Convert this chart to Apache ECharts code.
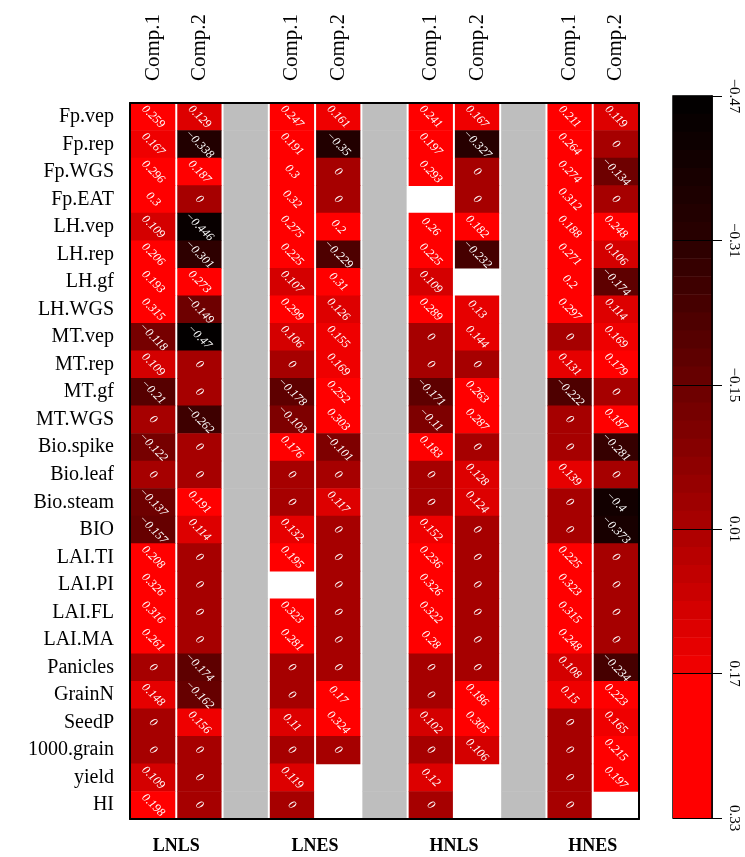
<!DOCTYPE html>
<html>
<head>
<meta charset="utf-8">
<script src="https://cdn.jsdelivr.net/npm/echarts@6/dist/echarts.min.js"></script>
<style>
  html, body { margin: 0; padding: 0; background: #fff; }
  #chart { width: 745px; height: 857px; }
</style>
</head>
<body>
<div id="chart"></div>
<script>
// Trait names (rows, top to bottom)
const rowNames = ['Fp.vep', 'Fp.rep', 'Fp.WGS', 'Fp.EAT', 'LH.vep', 'LH.rep', 'LH.gf', 'LH.WGS',
  'MT.vep', 'MT.rep', 'MT.gf', 'MT.WGS', 'Bio.spike', 'Bio.leaf', 'Bio.steam', 'BIO',
  'LAI.TI', 'LAI.PI', 'LAI.FL', 'LAI.MA', 'Panicles', 'GrainN', 'SeedP', '1000.grain', 'yield', 'HI'];

// Column headers; empty entries are the grey spacer columns
const columnLabels = ['Comp.1', 'Comp.2', '', 'Comp.1', 'Comp.2', '', 'Comp.1', 'Comp.2', '', 'Comp.1', 'Comp.2'];
const groupNames = ['LNLS', 'LNES', 'HNLS', 'HNES'];

// Loadings per treatment and component (null = not available)
const lnlsComp1 = [0.259, 0.167, 0.296, 0.3, 0.109, 0.206, 0.193, 0.315, -0.118, 0.109, -0.21, 0, -0.122,
  0, -0.137, -0.157, 0.208, 0.326, 0.316, 0.261, 0, 0.148, 0, 0, 0.109, 0.198];
const lnlsComp2 = [0.129, -0.338, 0.187, 0, -0.446, -0.301, 0.273, -0.149, -0.47, 0, 0, -0.262, 0,
  0, 0.191, 0.114, 0, 0, 0, 0, -0.174, -0.162, 0.156, 0, 0, 0];
const lnesComp1 = [0.247, 0.191, 0.3, 0.32, 0.275, 0.225, 0.107, 0.299, 0.106, 0, -0.178, -0.103, 0.176,
  0, 0, 0.132, 0.195, null, 0.323, 0.281, 0, 0, 0.11, 0, 0.119, 0];
const lnesComp2 = [0.161, -0.35, 0, 0, 0.2, -0.229, 0.31, 0.126, 0.155, 0.169, 0.252, 0.303, -0.101,
  0, 0.117, 0, 0, 0, 0, 0, 0, 0.17, 0.324, 0, null, null];
const hnlsComp1 = [0.241, 0.197, 0.293, null, 0.26, 0.225, 0.109, 0.289, 0, 0, -0.171, -0.11, 0.183,
  0, 0, 0.152, 0.236, 0.326, 0.322, 0.28, 0, 0, 0.102, 0, 0.12, 0];
const hnlsComp2 = [0.167, -0.327, 0, 0, 0.182, -0.232, null, 0.13, 0.144, 0, 0.263, 0.287, 0,
  0.128, 0.124, 0, 0, 0, 0, 0, 0, 0.186, 0.305, 0.106, null, null];
const hnesComp1 = [0.211, 0.264, 0.274, 0.312, 0.188, 0.271, 0.2, 0.297, 0, 0.131, -0.222, 0, 0,
  0.139, 0, 0, 0.225, 0.323, 0.315, 0.248, 0.108, 0.15, 0, 0, 0, 0];
const hnesComp2 = [0.119, 0, -0.134, 0, 0.248, 0.106, -0.174, 0.114, 0.169, 0.179, 0, 0.187, -0.281,
  0, -0.4, -0.373, 0, 0, 0, 0, -0.234, 0.223, 0.165, 0.215, 0.197, null];

// Colour bar tick labels
const colorbarTicks = [-0.47, -0.31, -0.15, 0.01, 0.17, 0.33];

const columns = [lnlsComp1, lnlsComp2, null, lnesComp1, lnesComp2, null,
  hnlsComp1, hnlsComp2, null, hnesComp1, hnesComp2];

// ---- colour scale: stepped black -> red ramp ----
const cbMin = colorbarTicks[0];
const cbMax = colorbarTicks[colorbarTicks.length - 1];
const cbTickStep = colorbarTicks[1] - colorbarTicks[0];
const rampAnchors = [[-0.47, 0], [-0.31, 42], [-0.15, 106], [0.01, 170], [0.17, 244]];
function redAt(v) {
  for (let i = 1; i < rampAnchors.length; i++) {
    const a = rampAnchors[i - 1], b = rampAnchors[i];
    if (v <= b[0]) {
      const t = (v - a[0]) / (b[0] - a[0]);
      return Math.round(a[1] + t * (b[1] - a[1]));
    }
  }
  return 255;
}
const r3 = x => Math.round(x * 1000) / 1000;
const bands = [];
const stepCount = 32;
const rampTop = 0.17;
for (let k = 0; k < stepCount; k++) {
  const lo = r3(cbMin + k * 0.02), hi = r3(cbMin + (k + 1) * 0.02);
  bands.push({ lo, hi, color: 'rgb(' + redAt((lo + hi) / 2) + ',0,0)' });
}
bands.push({ lo: rampTop, hi: cbMax, color: 'rgb(255,0,0)' });

const pieces = bands.map((b, i) => i === bands.length - 1
  ? { gte: b.lo, lte: b.hi + 0.01, color: b.color }
  : { gte: b.lo, lt: b.hi, color: b.color });

// ---- series data ----
const cellData = [];
const spacerData = [];
columns.forEach((col, ci) => {
  rowNames.forEach((_, ri) => {
    if (col === null) spacerData.push([ci, ri]);
    else if (col[ri] !== null) cellData.push([ci, ri, col[ri]]);
  });
});
const colorbarData = bands.map(b => [0, r3(b.lo - cbMin), r3((b.lo + b.hi) / 2), r3(b.hi - cbMin)]);

function fmt(v) {
  return v === 0 ? '0' : String(v).replace('-', '\u2212');
}

const serif = '"Liberation Serif", "Times New Roman", serif';

function renderCell(params, api) {
  const c = api.coord([api.value(0), api.value(1)]);
  const s = api.size([1, 1]);
  return {
    type: 'group',
    children: [
      {
        type: 'rect',
        shape: { x: c[0] - s[0] / 2 + 1, y: c[1] - s[1] / 2 - 0.3, width: s[0] - 2, height: s[1] + 0.6 },
        style: { fill: api.visual('color') }
      },
      {
        type: 'text',
        x: c[0], y: c[1],
        rotation: -Math.PI / 4,
        style: {
          text: fmt(api.value(2)),
          fill: '#fff',
          font: 'italic 12px ' + serif,
          align: 'center',
          verticalAlign: 'middle'
        }
      }
    ]
  };
}

function renderSpacer(params, api) {
  const c = api.coord([api.value(0), api.value(1)]);
  const s = api.size([1, 1]);
  return {
    type: 'rect',
    shape: { x: c[0] - s[0] / 2 + 1, y: c[1] - s[1] / 2 - 0.3, width: s[0] - 2, height: s[1] + 0.6 },
    style: { fill: '#bebebe' }
  };
}

function renderBand(params, api) {
  const p1 = api.coord([0, api.value(1)]);
  const p2 = api.coord([0, api.value(3)]);
  const w = api.size([1, 0])[0];
  const y = Math.min(p1[1], p2[1]);
  return {
    type: 'rect',
    shape: { x: p1[0] - w / 2, y: y - 0.3, width: w, height: Math.abs(p2[1] - p1[1]) + 0.6 },
    style: { fill: api.visual('color') }
  };
}

const chart = echarts.init(document.getElementById('chart'));
chart.setOption({
  backgroundColor: '#fff',
  animation: false,
  grid: [
    { left: 130, right: 106, top: 103, bottom: 38, show: false },
    { left: 673, width: 39, top: 96, bottom: 39, show: true, borderColor: '#000', borderWidth: 1.5 }
  ],
  xAxis: [
    {
      gridIndex: 0, type: 'category', data: columnLabels, position: 'top', z: 10,
      axisLine: { lineStyle: { color: '#000', width: 2 } },
      axisTick: { alignWithLabel: true, interval: 0, length: 10, lineStyle: { color: '#000', width: 2 } },
      axisLabel: { interval: 0, rotate: -90, margin: 22, color: '#000', fontFamily: serif, fontSize: 21 },
      splitLine: { show: false }
    },
    {
      gridIndex: 0, type: 'value', min: 0, max: 11, interval: 1, position: 'bottom', z: 10,
      axisLine: { show: true, onZero: false, lineStyle: { color: '#000', width: 2 } },
      axisTick: { show: false },
      splitLine: { show: false },
      axisLabel: {
        margin: 18, color: '#000', fontFamily: serif, fontSize: 18, fontWeight: 'bold',
        formatter: v => ((v - 1) % 3 === 0 && groupNames[(v - 1) / 3]) ? groupNames[(v - 1) / 3] : ''
      }
    },
    {
      gridIndex: 1, type: 'category', data: [''],
      axisLine: { show: false }, axisTick: { show: false }, axisLabel: { show: false }
    }
  ],
  yAxis: [
    {
      gridIndex: 0, type: 'category', data: rowNames, inverse: true, z: 10,
      axisLine: { lineStyle: { color: '#000', width: 2 } },
      axisTick: { alignWithLabel: true, interval: 0, length: 10, lineStyle: { color: '#000', width: 2 } },
      axisLabel: { interval: 0, margin: 16, color: '#000', fontFamily: serif, fontSize: 20 },
      splitLine: { show: false }
    },
    {
      gridIndex: 0, type: 'category', data: rowNames, inverse: true, position: 'right', z: 10,
      axisLine: { lineStyle: { color: '#000', width: 2 } },
      axisTick: { show: false }, axisLabel: { show: false }
    },
    {
      gridIndex: 1, type: 'value', min: 0, max: r3(cbMax - cbMin), interval: cbTickStep,
      inverse: true, position: 'right', z: 10,
      axisLine: { show: true, lineStyle: { color: '#000', width: 1.5 } },
      axisTick: { show: true, length: 10, lineStyle: { color: '#000', width: 1 } },
      splitLine: { show: true, lineStyle: { color: '#000', width: 1 } },
      axisLabel: {
        rotate: -90, margin: 14, color: '#000', fontFamily: serif, fontSize: 15,
        formatter: v => fmt(colorbarTicks[Math.round(v / cbTickStep)])
      }
    }
  ],
  visualMap: {
    type: 'piecewise', show: false, dimension: 2, seriesIndex: [0, 2], pieces: pieces
  },
  series: [
    { type: 'custom', name: 'loadings', xAxisIndex: 0, yAxisIndex: 0, data: cellData, renderItem: renderCell, z: 2 },
    { type: 'custom', name: 'spacer', xAxisIndex: 0, yAxisIndex: 0, data: spacerData, renderItem: renderSpacer, z: 2 },
    { type: 'custom', name: 'colorbar', xAxisIndex: 2, yAxisIndex: 2, data: colorbarData, renderItem: renderBand, z: 2 }
  ]
});
</script>
</body>
</html>
